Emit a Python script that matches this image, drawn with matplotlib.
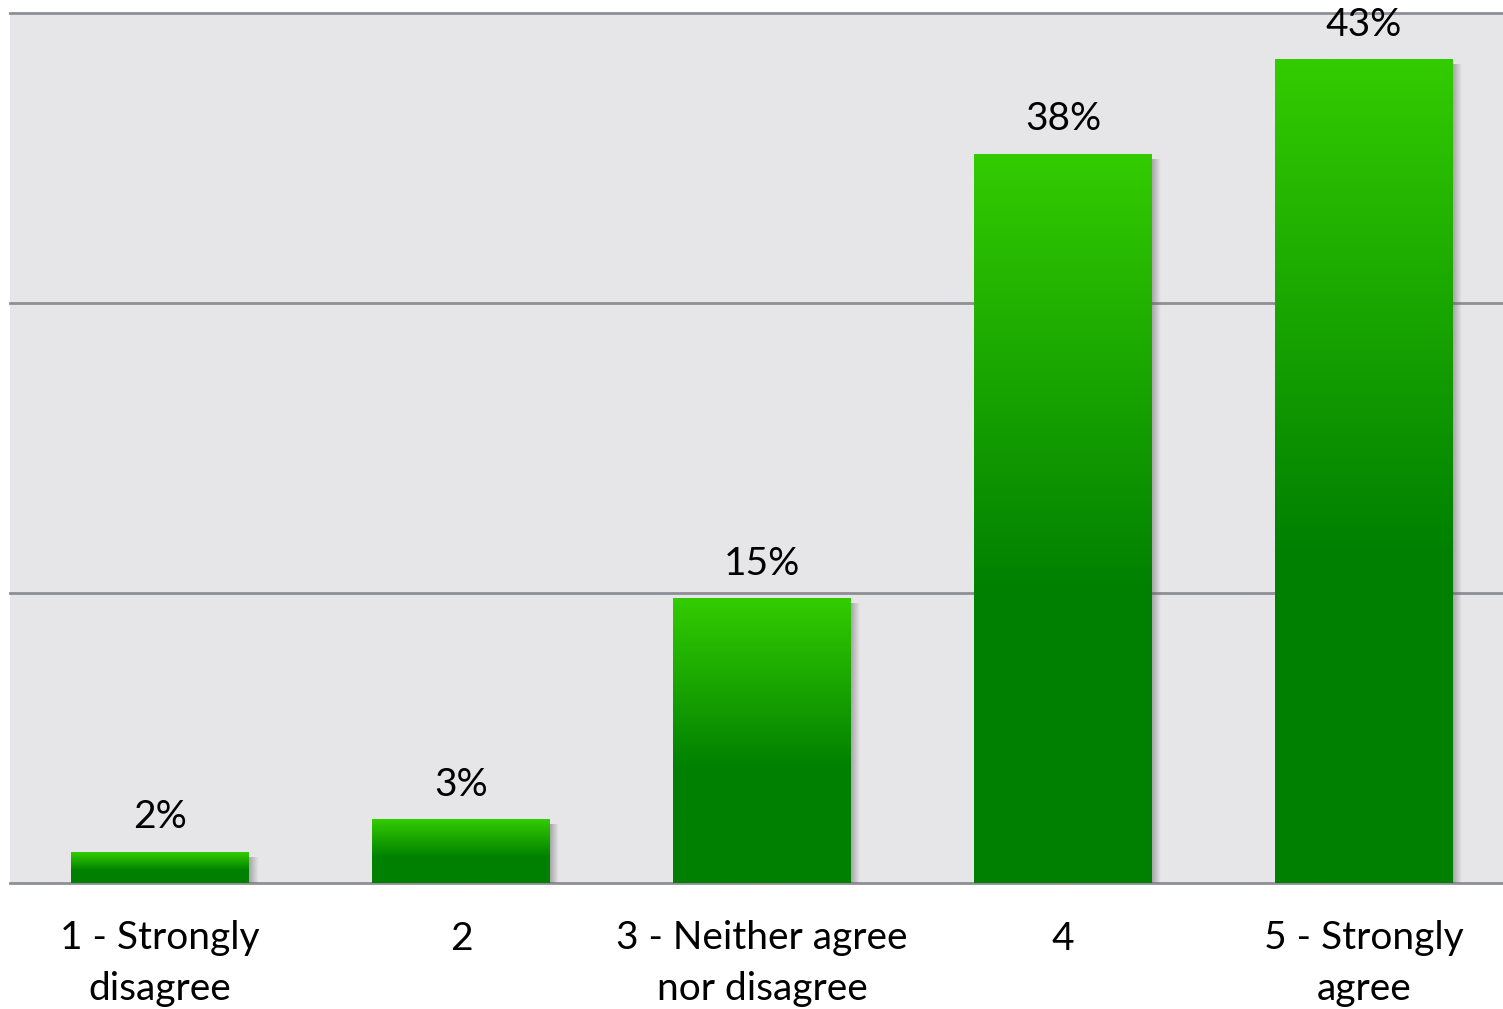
import numpy as np
import matplotlib
matplotlib.use("Agg")
import matplotlib.pyplot as plt
from matplotlib.colors import to_rgb

categories = ["1 - Strongly\ndisagree", "2", "3 - Neither agree\nnor disagree", "4", "5 - Strongly\nagree"]
values = [1.6, 3.3, 14.7, 37.7, 42.6]
value_labels = ["2%", "3%", "15%", "38%", "43%"]
yticks = [0, 15, 30, 45]

W, H = 1503, 1009
dpi = 100
fig = plt.figure(figsize=(W / dpi, H / dpi), dpi=dpi)
fig.patch.set_facecolor("white")

left_px, right_px, top_px, bot_px = 9.5, 9.5 + 1505, 13, 883
ax = fig.add_axes([left_px / W, 1 - bot_px / H, (right_px - left_px) / W, (bot_px - top_px) / H])
ax.set_facecolor("#E6E6E9")
ax.set_xlim(-0.5, 4.5)
ax.set_ylim(0, 45)

font = "Lato"
fs = 28

# gridlines
for yv in yticks:
    ax.axhline(yv, color="#8E8E96", lw=2.0, zorder=1, clip_on=False)

for s in ax.spines.values():
    s.set_visible(False)
ax.set_yticks([])
ax.set_xticks(range(len(categories)))
ax.set_xticklabels(categories, fontsize=fs, family=font, linespacing=1.5, va="top")
ax.tick_params(axis="x", length=0, pad=27)

px_x = (right_px - left_px) / 5.0
px_y = (bot_px - top_px) / 45.0

top_c = np.array(to_rgb("#33CC00"))
bot_c = np.array(to_rgb("#008000"))
bw = 0.59
N = 400
for i, v in enumerate(values):
    t = np.linspace(0, 1, N)  # from top
    f = np.clip(t / 0.6, 0, 1)
    cols = top_c[None, :] * (1 - f[:, None]) + bot_c[None, :] * f[:, None]
    img = cols[:, None, :]
    sw = 9 / px_x
    soff = 5 / px_y
    a = np.linspace(0.45, 0.0, 20)
    shadow = np.zeros((1, 20, 4))
    shadow[0, :, :3] = 0.35
    shadow[0, :, 3] = a
    ax.imshow(shadow, extent=[i + bw / 2, i + bw / 2 + sw, 0, max(v - soff, 0)],
              aspect="auto", zorder=2, interpolation="bilinear")
    ax.imshow(img, extent=[i - bw / 2, i + bw / 2, 0, v], aspect="auto",
              zorder=3, interpolation="bilinear")
    ax.annotate(value_labels[i], (i, v), xytext=(0, 12), textcoords="offset points",
                ha="center", va="bottom", fontsize=fs, family=font, color="black",
                annotation_clip=False, zorder=5)

ax.set_xlim(-0.5, 4.5)
ax.set_ylim(0, 45)
fig.savefig("out.png", dpi=dpi, facecolor="white")
